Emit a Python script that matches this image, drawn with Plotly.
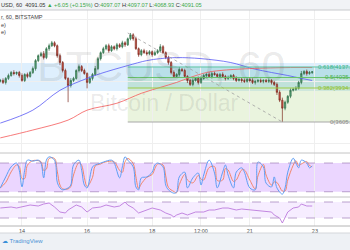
import plotly.graph_objects as go
import pandas as pd

# ---------------- data ----------------
bar_start = "2019-03-13 08:00"       # 2-hour bars shown on the 60-min chart
first_open = 4000
closes = [4007, 3988, 4027, 4055, 4084, 4074, 4084, 4055, 4007, 4065,
          4046, 4084, 4122, 4199, 4247, 4266, 4228, 4314, 4343, 4371,
          4343, 4247, 4180, 4103, 4027, 3959, 4007, 4027, 4103, 4141,
          4103, 4074, 3988, 4027, 4065, 4122, 4218, 4276, 4314, 4343,
          4295, 4333, 4314, 4352, 4333, 4371, 4352, 4410, 4448, 4410,
          4314, 4256, 4295, 4276, 4266, 4285, 4256, 4276, 4295, 4333,
          4276, 4228, 4180, 4084, 4046, 4065, 4113, 4103, 4046, 4007,
          3969, 4007, 4027, 3988, 4027, 4055, 4065, 4046, 4074, 4065,
          4046, 4065, 4046, 4027, 4036, 4055, 4027, 4007, 4017, 4007,
          3998, 4017, 4007, 3988, 3998, 4007, 3998, 4007, 3998, 4007,
          3988, 3969, 3892, 3816, 3739, 3797, 3854, 3912, 3921, 3931,
          3988, 4074, 4094, 4074, 4084, 4091.05]
wick_hi = [15, 20, 12, 18, 15, 22, 10, 15, 20, 12,
           18, 15, 20, 15, 12, 18, 25, 15, 20, 18,
           15, 12, 20, 15, 18, 10, 22, 15, 12, 20,
           15, 18, 12, 20, 15, 25, 15, 12, 18, 15,
           20, 15, 12, 18, 15, 20, 15, 12, 18, 15,
           20, 12, 15, 18, 22, 15, 12, 20, 15, 25,
           15, 12, 18, 15, 20, 12, 25, 15, 18, 12,
           15, 20, 12, 18, 25, 15, 12, 20, 15, 18,
           12, 15, 20, 15, 18, 12, 15, 20, 12, 15,
           18, 12, 15, 20, 12, 15, 18, 12, 15, 20,
           12, 15, 18, 20, 25, 15, 12, 18, 15, 20,
           15, 25, 12, 18, 15, 6]
wick_lo = [12, 15, 20, 15, 12, 18, 15, 20, 12, 15,
           18, 12, 15, 20, 15, 12, 18, 15, 20, 12,
           15, 20, 25, 18, 15, 162, 20, 15, 12, 18,
           15, 12, 57, 15, 20, 12, 15, 18, 12, 15,
           20, 12, 15, 18, 12, 15, 20, 12, 15, 18,
           12, 20, 15, 12, 18, 15, 20, 12, 15, 18,
           12, 15, 20, 18, 15, 12, 20, 15, 12, 25,
           15, 18, 12, 20, 15, 12, 18, 15, 20, 12,
           15, 18, 12, 20, 15, 12, 18, 15, 12, 20,
           15, 12, 18, 15, 20, 12, 15, 18, 12, 15,
           20, 15, 25, 18, 134, 20, 15, 18, 12, 15,
           12, 18, 15, 20, 12, 15]

sma_blue_idx = [0, 12, 22, 32, 37, 47, 54, 59, 65, 74, 85, 93, 100, 106, 111, 115]
sma_blue_val = [3595, 3720, 3912, 4027, 4074, 4151, 4199, 4218, 4228, 4218,
                4180, 4122, 4084, 4055, 4027, 4007]
sma_red_idx = [0, 12, 25, 32, 43, 52, 59, 65, 70, 76, 81, 92, 107, 115]
sma_red_val = [3452, 3528, 3624, 3720, 3787, 3883, 3940, 3988, 4036, 4084,
               4103, 4122, 4132, 4132]

stoch_idx = [0, 2, 4, 6, 7, 8, 9, 10, 12, 14, 15, 16, 17, 18, 20, 21, 22, 23, 25, 26,
             27, 29, 30, 31, 32, 34, 35, 37, 38, 41, 42, 44, 45, 46, 47, 49, 50, 51, 52, 54,
             56, 57, 58, 60, 61, 62, 64, 65, 66, 68, 69, 71, 73, 74, 75, 77, 79, 80, 82, 83,
             84, 86, 87, 89, 90, 92, 94, 95, 97, 98, 100, 101, 102, 104, 105, 106, 108, 109,
             110, 111, 113, 114, 115]
stoch_k = [28, 51, 72, 80, 65, 30, 65, 86, 84, 86, 80, 49, 86, 93, 86, 40, 28, 24, 28, 34,
           76, 86, 65, 34, 28, 72, 76, 80, 82, 86, 80, 49, 72, 93, 86, 72, 30, 24, 49, 51,
           61, 76, 80, 72, 34, 24, 17, 19, 51, 61, 28, 49, 59, 34, 55, 86, 59, 28, 61, 76,
           55, 28, 61, 70, 61, 28, 24, 82, 72, 38, 30, 51, 28, 15, 28, 61, 90, 80,
           70, 86, 80, 70, 74]

rsi_idx = [0, 4, 6, 8, 11, 14, 16, 18, 20, 22, 24, 25, 28, 30, 32, 34, 37, 39, 42, 44,
           46, 47, 49, 51, 52, 54, 56, 59, 61, 63, 64, 65, 67, 69, 72, 75, 77, 79, 82, 84,
           87, 89, 92, 94, 98, 100, 101, 103, 104, 105, 106, 108, 110, 111, 113, 114, 115]
rsi_val = [55, 57.5, 55, 57.5, 62.5, 60, 65, 67.5, 57.5, 45, 42.5, 50, 62.5, 57.5, 45, 55,
           57.5, 62.5, 57.5, 60, 70, 62.5, 55, 42.5, 45, 50, 55, 50, 42.5, 37.5, 32.5, 37.5,
           42.5, 37.5, 45, 45, 50, 50, 55, 55, 50, 52.5, 50, 50, 45, 45, 37.5, 30, 17.5, 32.5,
           45, 55, 57.5, 65, 60, 60, 60]

fib_high, fib_low = 4466.0, 3605.5
fib_start_idx, fib_end_idx = 47, 104
fib_levels = [0.618, 0.5, 0.382, 0.0]
box_lo, box_hi = 3905, 4176

tick_vals = ["2019-03-14", "2019-03-16", "2019-03-18", "2019-03-19 12:00",
             "2019-03-21", "2019-03-23"]
tick_text = ["14", "16", "18", "12:00", "21", "23"]
x_range = ["2019-03-13 07:47", "2019-03-24 01:53"]

# ---------------- figure ----------------
times = pd.date_range(bar_start, periods=len(closes), freq="2h")
opens = [first_open] + closes[:-1]
highs = [max(o, c) + w for o, c, w in zip(opens, closes, wick_hi)]
lows = [min(o, c) - w for o, c, w in zip(opens, closes, wick_lo)]

fig = go.Figure()
fig.add_trace(go.Candlestick(
    x=times, open=opens, high=highs, low=lows, close=closes,
    increasing=dict(line=dict(color="#2f6e48", width=0.7), fillcolor="#5aa57a"),
    decreasing=dict(line=dict(color="#7d2a20", width=0.7), fillcolor="#d4584a"),
    whiskerwidth=0, xaxis="x", yaxis="y", showlegend=False, hoverinfo="skip"))

fig.add_trace(go.Scatter(x=[times[i] for i in sma_blue_idx], y=sma_blue_val, mode="lines",
                         line=dict(color="rgba(90,90,245,0.8)", width=1, shape="spline"),
                         xaxis="x", yaxis="y", hoverinfo="skip"))
fig.add_trace(go.Scatter(x=[times[i] for i in sma_red_idx], y=sma_red_val, mode="lines",
                         line=dict(color="rgba(245,90,90,0.8)", width=1, shape="spline"),
                         xaxis="x", yaxis="y", hoverinfo="skip"))

# fib trend line (dotted) from high to low
fig.add_trace(go.Scatter(x=[times[fib_start_idx], times[fib_end_idx]], y=[fib_high, fib_low],
                         mode="lines", line=dict(color="#a0a0a0", width=0.8, dash="dot"),
                         xaxis="x", yaxis="y", hoverinfo="skip"))

st_x = [times[i] for i in stoch_idx]
stoch_d = pd.Series(stoch_k, dtype=float).rolling(2, min_periods=1).mean().tolist()
fig.add_trace(go.Scatter(x=st_x, y=stoch_d, mode="lines",
                         line=dict(color="#f3866a", width=1, shape="spline"),
                         xaxis="x2", yaxis="y2", hoverinfo="skip"))
fig.add_trace(go.Scatter(x=st_x, y=stoch_k, mode="lines",
                         line=dict(color="#5e9ef5", width=1, shape="spline"),
                         xaxis="x2", yaxis="y2", hoverinfo="skip"))
fig.add_trace(go.Scatter(x=[times[i] for i in rsi_idx], y=rsi_val, mode="lines",
                         line=dict(color="#b56cd8", width=0.8),
                         xaxis="x3", yaxis="y3", hoverinfo="skip"))

shapes = []
# header band and footer
shapes.append(dict(type="rect", xref="paper", yref="paper", x0=0, x1=1, y0=0.96, y1=1,
                   fillcolor="#f1f3f6", line=dict(width=0), layer="below"))
shapes.append(dict(type="rect", xref="paper", yref="paper", x0=0, x1=1, y0=0, y1=0.068,
                   fillcolor="#eef1f5", line=dict(width=0), layer="below"))
for yy, col in [(0.96, "#c8cacd"), (0.388, "#c4c4c4"), (0.212, "#c4c4c4"),
                (0.096, "#b4b4b4"), (0.068, "#d4d7db")]:
    shapes.append(dict(type="line", xref="paper", yref="paper", x0=0, x1=1, y0=yy, y1=yy,
                       line=dict(color=col, width=1)))
# blue zone
shapes.append(dict(type="rect", xref="paper", yref="y", x0=0, x1=1, y0=box_lo, y1=box_hi,
                   fillcolor="rgba(33,150,243,0.15)", line=dict(width=0), layer="below"))
# fib zones
fib_px = [fib_low + l * (fib_high - fib_low) for l in fib_levels]
fib_fill = ["rgba(38,166,154,0.20)", "rgba(76,175,80,0.20)", "rgba(139,195,74,0.18)"]
fib_line = ["#5cc4a0", "#6ac46a", "#9ccc45", "#a8a8a8"]
x0f = times[fib_start_idx]
for k in range(3):
    shapes.append(dict(type="rect", xref="x", yref="y", x0=x0f, x1="2019-03-26",
                       y0=fib_px[k + 1], y1=fib_px[k], fillcolor=fib_fill[k],
                       line=dict(width=0), layer="below"))
for k in range(4):
    shapes.append(dict(type="line", xref="x", yref="y", x0=x0f, x1="2019-03-26",
                       y0=fib_px[k], y1=fib_px[k], line=dict(color=fib_line[k], width=1)))
# oscillator bands
shapes.append(dict(type="rect", xref="paper", yref="y2", x0=0, x1=1, y0=20, y1=80,
                   fillcolor="rgba(153,51,255,0.20)", line=dict(width=0), layer="below"))
shapes.append(dict(type="rect", xref="paper", yref="y3", x0=0, x1=1, y0=30, y1=70,
                   fillcolor="rgba(153,51,255,0.09)", line=dict(width=0), layer="below"))
for ax, v in [("y2", 20), ("y2", 80), ("y3", 30), ("y3", 70)]:
    shapes.append(dict(type="line", xref="paper", yref=ax, x0=0, x1=1, y0=v, y1=v,
                       line=dict(color="#a98bc0", width=0.8, dash="dash")))

green = "#3aa848"
hdr = ("USD, 60  4091.05 <span style='color:%s'>▲ +6.05 (+0.15%%)</span> "
       "O:<span style='color:%s'>4097.07</span> H:<span style='color:%s'>4097.07</span> "
       "L:<span style='color:%s'>4068.93</span> C:<span style='color:%s'>4091.05</span>"
       % (green, green, green, green, green))
ann = [
    dict(text=hdr, x=-0.004, y=1 - 5 / 250, xref="paper", yref="paper", xanchor="left",
         yanchor="middle", showarrow=False, font=dict(size=5.6, color="#333333",
                                                       family="Liberation Sans")),
    dict(text="r, 60, BITSTAMP", x=-0.002, y=1 - 17 / 250, xref="paper", yref="paper",
         xanchor="left", yanchor="middle", showarrow=False,
         font=dict(size=5.6, color="#444444", family="Liberation Sans")),
    dict(text="e)", x=-0.002, y=1 - 25 / 250, xref="paper", yref="paper",
         xanchor="left", yanchor="middle", showarrow=False,
         font=dict(size=5.6, color="#444444", family="Liberation Sans")),
    dict(text="e)", x=-0.002, y=1 - 32 / 250, xref="paper", yref="paper",
         xanchor="left", yanchor="middle", showarrow=False,
         font=dict(size=5.6, color="#444444", family="Liberation Sans")),
    dict(text="BTCUSD, 60", x=161 / 350, y=1 - 66 / 250, xref="paper", yref="paper",
         xanchor="center", yanchor="middle", showarrow=False,
         font=dict(size=43, color="rgba(60,60,60,0.11)", family="Liberation Sans")),
    dict(text="Bitcoin / Dollar", x=164 / 350, y=1 - 103 / 250, xref="paper", yref="paper",
         xanchor="center", yanchor="middle", showarrow=False,
         font=dict(size=23, color="rgba(60,60,60,0.11)", family="Liberation Sans")),
    dict(text="<span style='color:#3a8fd8'>☁</span> TradingView", x=0.0, y=1 - 241 / 250,
         xref="paper", yref="paper", xanchor="left", yanchor="middle", showarrow=False,
         font=dict(size=6, color="#4a92d6", family="Liberation Sans")),
]
lab_col = ["#3fb48f", "#4caf50", "#8cbf3a", "#8a8a8a"]
for k, l in enumerate(fib_levels):
    ann.append(dict(text="%s(%.2f)" % (("%g" % l), fib_px[k]), x=1.031, y=fib_px[k],
                    xref="paper", yref="y", xanchor="right", yanchor="middle",
                    showarrow=False, font=dict(size=6, color=lab_col[k],
                                               family="Liberation Sans")))

grid = "#efefef"
xcommon = dict(range=x_range, tickvals=tick_vals, showgrid=True, gridcolor=grid,
               gridwidth=1, zeroline=False, showline=False, fixedrange=True)
fig.update_layout(
    width=350, height=250, margin=dict(l=0, r=0, t=0, b=0),
    paper_bgcolor="white", plot_bgcolor="white", showlegend=False,
    xaxis=dict(domain=[0, 1], anchor="y", showticklabels=False,
               rangeslider=dict(visible=False), **xcommon),
    xaxis2=dict(domain=[0, 1], anchor="y2", matches="x", showticklabels=False, **xcommon),
    xaxis3=dict(domain=[0, 1], anchor="y3", matches="x", showticklabels=True,
                ticktext=tick_text, ticks="", ticklen=0,
                tickfont=dict(size=5.5, color="#4c4c4c", family="Liberation Sans"),
                **xcommon),
    yaxis=dict(domain=[0.388, 0.96], range=[3306, 4688], tickvals=[3400, 4000, 4600],
               showticklabels=False, showgrid=True, gridcolor=grid, zeroline=False,
               fixedrange=True),
    yaxis2=dict(domain=[0.212, 0.388], range=[9, 101], showticklabels=False,
                showgrid=False, zeroline=False, fixedrange=True),
    yaxis3=dict(domain=[0.096, 0.212], range=[10, 82.5], showticklabels=False,
                showgrid=False, zeroline=False, fixedrange=True),
    shapes=shapes, annotations=ann,
)
fig.write_html("out.html", config={"displayModeBar": False})
